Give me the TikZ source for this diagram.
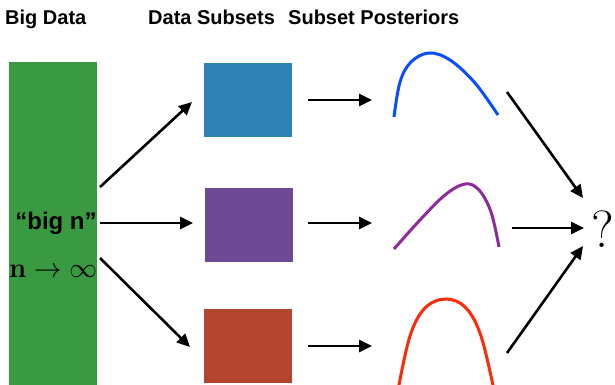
\documentclass[tikz,border=0pt]{standalone}
\usepackage[no-math]{fontspec}
\setmainfont{Liberation Sans}
\usepackage{amsmath}
\usetikzlibrary{arrows.meta}
\definecolor{biggreen}{HTML}{3A9A42}
\definecolor{subblue}{HTML}{2F82B3}
\definecolor{subpurple}{HTML}{6C4A94}
\definecolor{subred}{HTML}{B3452F}
\definecolor{cblue}{HTML}{0A4DFF}
\definecolor{cpurple}{HTML}{8E2A9C}
\definecolor{cred}{HTML}{FF2A0A}
\tikzset{
  title/.style={font=\fontsize{20}{23}\selectfont\bfseries, anchor=base west, inner sep=0pt},
  subbox/.style={minimum width=88pt, minimum height=74pt, inner sep=0pt, draw=none},
  arr/.style={line width=2.6pt, -{Triangle[length=13pt,width=12pt]}},
  curve/.style={line width=3pt, line cap=butt}
}
\begin{document}
\begin{tikzpicture}[x=1pt,y=-1pt]
\useasboundingbox (0,0) rectangle (615,385);
% titles
\node[title] (t1) at (5,25) {Big Data};
\node[title] (t2) at (148,25) {Data Subsets};
\node[title] (t3) at (288,25) {Subset Posteriors};
% big data
\fill[biggreen] (9,62) rectangle (97,390);
\node[font=\fontsize{24}{28}\selectfont\bfseries, inner sep=0pt] (bign) at (56,223) {“big n”};
\node[font=\LARGE, scale=1.6, inner sep=0pt] (ninf) at (53,271) {$\mathbf{n}\rightarrow\infty$};
% subsets
\node[subbox, fill=subblue] (s1) at (248,100) {};
\node[subbox, fill=subpurple] (s2) at (249,225) {};
\node[subbox, fill=subred] (s3) at (248,346) {};
% arrows from big data
\coordinate (g1) at (100,187);
\coordinate (g2) at (100,223);
\coordinate (g3) at (100,258);
\coordinate (e1) at (192,102);
\coordinate (e2) at (193,223);
\coordinate (e3) at (190,347);
\draw[arr] (g1) -- (e1);
\draw[arr] (g2) -- (e2);
\draw[arr] (g3) -- (e3);
% arrows to posteriors
\coordinate (a1) at (308,100);
\coordinate (b1) at (372,100);
\coordinate (a2) at (308,223);
\coordinate (b2) at (372,223);
\coordinate (a3) at (308,346);
\coordinate (b3) at (372,346);
\draw[arr] (a1) -- (b1);
\draw[arr] (a2) -- (b2);
\draw[arr] (a3) -- (b3);
% curves
\draw[curve, cblue] plot[smooth, tension=0.6] coordinates {(394,117) (400,82) (411,62) (429,53) (450,60) (475,83) (498,115)};
\draw[curve, cpurple] plot[smooth, tension=0.6] coordinates {(394,249) (420,220) (445,195) (465,184) (479,190) (491,212) (499,247)};
\draw[curve, cred] plot[smooth, tension=0.6] coordinates {(398,390) (410,336) (425,308) (446,299) (466,308) (481,336) (494,390)};
% question mark
\node[font=\Huge, scale=2.1, inner sep=0pt] (q) at (603,229) {$?$};
\coordinate (c1) at (507,92);
\coordinate (c2) at (512,228);
\coordinate (c3) at (507,353);
\coordinate (q1) at (583,198);
\coordinate (q2) at (584,228);
\coordinate (q3) at (583,246);
\draw[arr] (c1) -- (q1);
\draw[arr] (c2) -- (q2);
\draw[arr] (c3) -- (q3);
\end{tikzpicture}
\end{document}
